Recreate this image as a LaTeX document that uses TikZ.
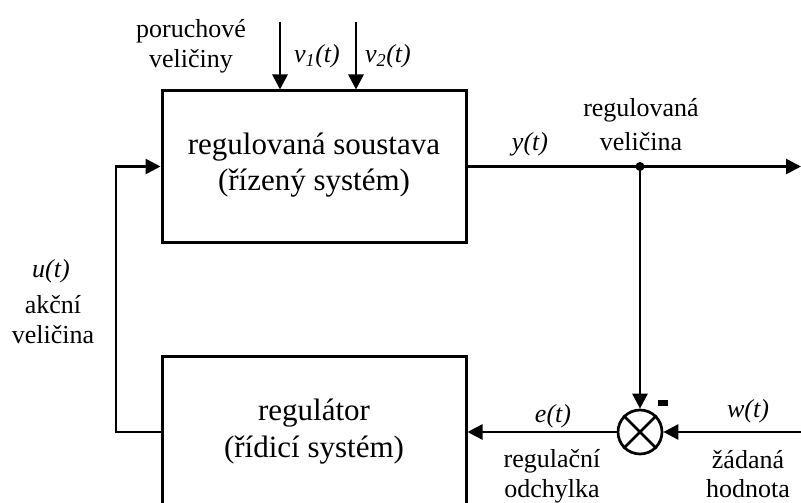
\documentclass[tikz,border=0pt]{standalone}
\usepackage{fontspec}
\setmainfont{Liberation Serif}
\usetikzlibrary{arrows.meta}
\tikzset{
  blk/.style={draw, line width=3pt, minimum width=304pt, inner sep=0pt},
  sig/.style={line width=2.7pt, -{Triangle[length=15pt,width=15pt]}},
  wire/.style={line width=2.7pt},
  big/.style={font=\fontsize{31}{36}\selectfont, anchor=base, inner sep=0pt},
  lbl/.style={font=\fontsize{26}{30}\selectfont, anchor=base, inner sep=0pt},
  var/.style={font=\fontsize{26}{30}\selectfont\itshape, anchor=base, inner sep=0pt},
}
\begin{document}
\begin{tikzpicture}[x=1pt,y=-1pt]
  \clip (0,0) rectangle (801,503);

  % blocks
  \node[blk, minimum height=151pt] (plant) at (314,166.5) {};
  \node[blk, minimum height=170pt] (ctrl) at (314,441) {};
  \node[big] (plantA) at (314,154) {regulovaná soustava};
  \node[big] (plantB) at (314,190) {(řízený systém)};
  \node[big] (ctrlA) at (314,420) {regulátor};
  \node[big] (ctrlB) at (314,457) {(řídicí systém)};

  % comparator
  \node[draw, circle, line width=2.7pt, minimum size=44pt, inner sep=0pt] (sum) at (640,432) {};
  \draw[wire] (sum.north west) -- (sum.south east);
  \draw[wire] (sum.north east) -- (sum.south west);
  \fill (658,400) rectangle (668,406);

  % disturbances
  \coordinate (d1) at (280,22);
  \coordinate (d2) at (356,22);
  \draw[sig] (d1) -- (d1 |- plant.north);
  \draw[sig] (d2) -- (d2 |- plant.north);
  \node[lbl] (por1) at (191,38) {poruchové};
  \node[lbl] (por2) at (191,67) {veličiny};
  \node[var] (v1) at (317,63) {v\textsubscript{1}(t)};
  \node[var] (v2) at (388,63) {v\textsubscript{2}(t)};

  % output and feedback to comparator
  \coordinate (j) at (640,166.5);
  \coordinate (out) at (801,166.5);
  \draw[wire] (plant.east) -- (j);
  \draw[sig] (j) -- (out);
  \fill (j) circle (4.5pt);
  \draw[sig] (j) -- (sum.north);
  \node[var] (y) at (530,150) {y(t)};
  \node[lbl] (reg1) at (641,117) {regulovaná};
  \node[lbl] (reg2) at (641,150) {veličina};

  % reference input
  \coordinate (w) at (801,432);
  \draw[sig] (w) -- (sum.east);
  \node[var] (wl) at (748,417) {w(t)};
  \node[lbl] (zad1) at (748,468) {žádaná};
  \node[lbl] (zad2) at (748,497) {hodnota};

  % control error
  \draw[sig] (sum.west) -- (sum.west -| ctrl.east);
  \node[var] (el) at (553,422) {e(t)};
  \node[lbl] (odch1) at (552,467) {regulační};
  \node[lbl] (odch2) at (552,497) {odchylka};

  % actuating signal
  \coordinate (fb) at (116,432);
  \draw[sig] (ctrl.west |- sum) -- (fb) |- (plant.west);
  \node[var] (ul) at (51,277) {u(t)};
  \node[lbl] (akc1) at (53,313) {akční};
  \node[lbl] (akc2) at (53,343) {veličina};
\end{tikzpicture}
\end{document}
